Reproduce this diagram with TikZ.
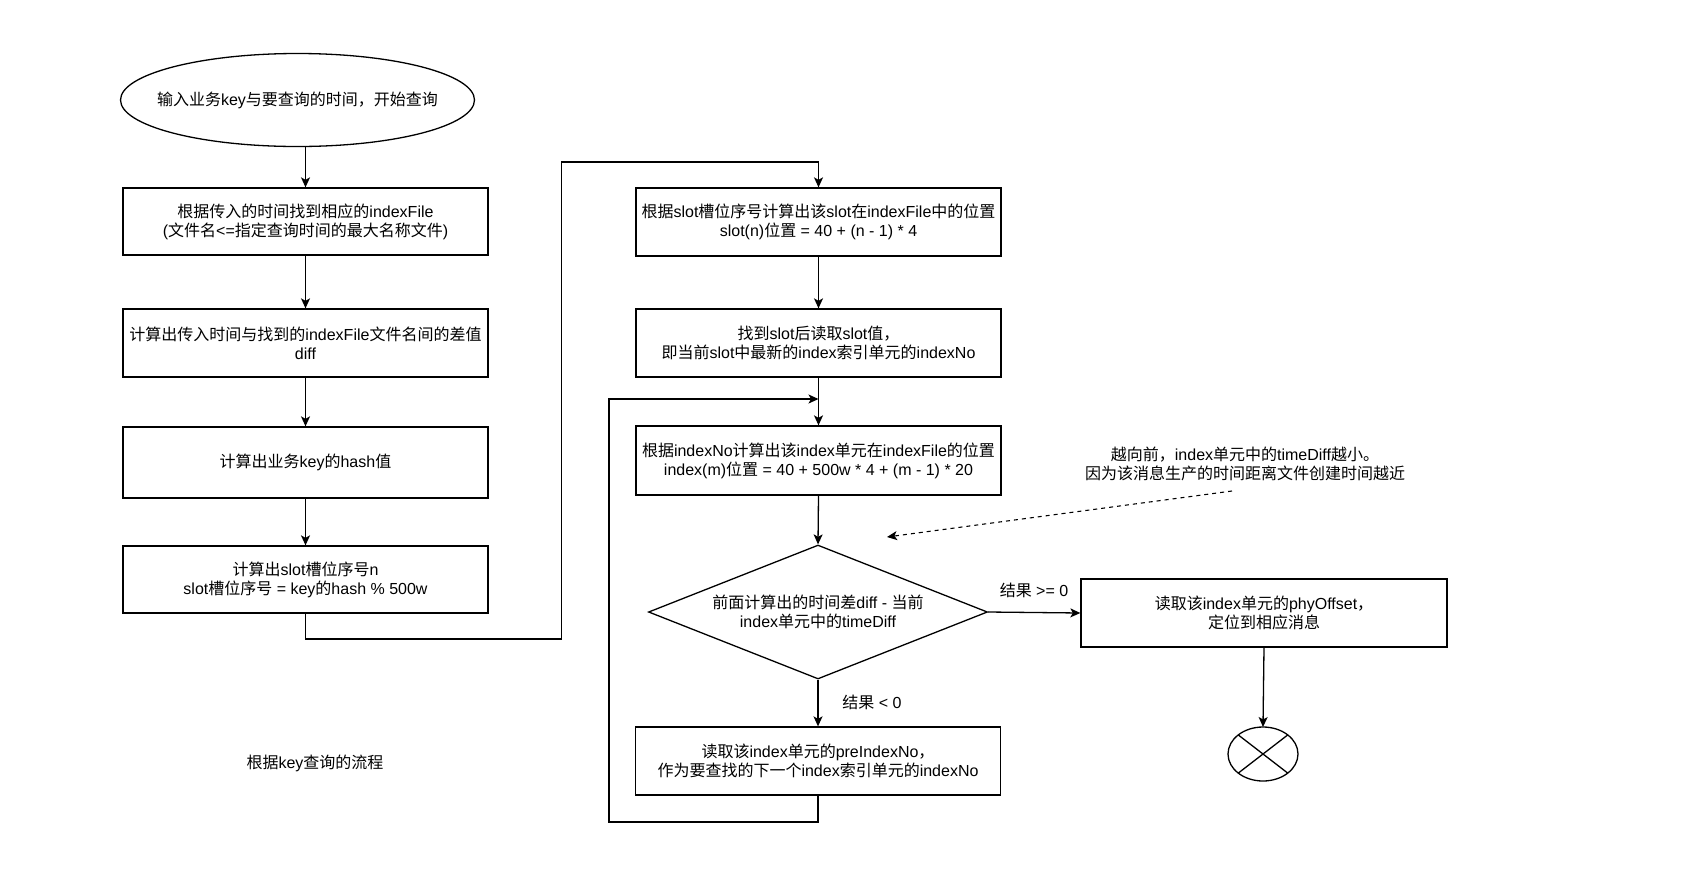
\documentclass[tikz,border=0pt]{standalone}
\usepackage{fontspec}
\usetikzlibrary{shapes.geometric,arrows.meta}
\setmainfont{Liberation Sans}
\newfontfamily\cjkf{Noto Sans CJK SC}
\newfontfamily\latf{Liberation Sans}
\XeTeXinterchartokenstate=1
\newXeTeXintercharclass\cjkcls
\newcount\mycnt
\mycnt="3000
\loop\ifnum\mycnt<"3040 \XeTeXcharclass\mycnt=\cjkcls \advance\mycnt by 1 \repeat
\mycnt="4E00
\loop\ifnum\mycnt<"A000 \XeTeXcharclass\mycnt=\cjkcls \advance\mycnt by 1 \repeat
\mycnt="FF00
\loop\ifnum\mycnt<"FFF0 \XeTeXcharclass\mycnt=\cjkcls \advance\mycnt by 1 \repeat
\XeTeXinterchartoks 0 \cjkcls={\cjkf}
\XeTeXinterchartoks 4095 \cjkcls={\cjkf}
\XeTeXinterchartoks \cjkcls 0={\latf}
\XeTeXinterchartoks \cjkcls 4095={\latf}
\begin{document}
\begin{tikzpicture}[x=1pt,y=-1pt,line width=1.3pt,
  txt/.style={font=\fontsize{16}{19}\selectfont,align=center,inner sep=0pt},
  box/.style={txt,draw,rectangle,minimum width=365pt,minimum height=68pt},
  arr/.style={-{Stealth[length=10pt,width=9pt,inset=2.5pt]}},
  dashline/.style={dash pattern=on 4pt off 4pt}]
\useasboundingbox[fill=white] (0,0) rectangle (1690,879);
% left column
\node[draw,ellipse,minimum width=354pt,minimum height=93pt,inner sep=0pt] (start) at (297.5,100) {};
\node[txt] (starttxt) at (start.center) {输入业务key与要查询的时间，开始查询};
\node[box,minimum height=67pt] (b1) at (305.5,221.5) {根据传入的时间找到相应的indexFile\\(文件名<=指定查询时间的最大名称文件)};
\node[box] (b2) at (305.5,343) {计算出传入时间与找到的indexFile文件名间的差值\\diff};
\node[box,minimum height=71pt] (b3) at (305.5,462.5) {计算出业务key的hash值};
\node[box,minimum height=67pt] (b4) at (305.5,579.5) {计算出slot槽位序号n\\slot槽位序号 = key的hash \% 500w};
\node[txt] (cap) at (315,763) {根据key查询的流程};
% middle column
\node[box] (b5) at (818.5,222) {根据slot槽位序号计算出该slot在indexFile中的位置\\slot(n)位置 = 40 + (n - 1) * 4};
\node[box] (b6) at (818.5,343) {找到slot后读取slot值，\\即当前slot中最新的index索引单元的indexNo};
\node[box,minimum height=69pt] (b7) at (818.5,460.5) {根据indexNo计算出该index单元在indexFile的位置\\index(m)位置 = 40 + 500w * 4 + (m - 1) * 20};
\node[draw,diamond,minimum width=339pt,minimum height=134pt,inner sep=0pt] (dia) at (818,612) {};
\node[txt] (diatxt) at (dia.center) {前面计算出的时间差diff - 当前\\index单元中的timeDiff};
\node[box] (b9) at (818,761) {读取该index单元的preIndexNo，\\作为要查找的下一个index索引单元的indexNo};
% right column
\node[box,minimum width=366pt] (b8) at (1264,613) {读取该index单元的phyOffset，\\定位到相应消息};
\node[draw,ellipse,minimum width=70pt,minimum height=54pt,inner sep=0pt,outer sep=0pt] (end) at (1263,754) {};
\draw (end.north east) -- (end.south west) (end.north west) -- (end.south east);
\node[txt] (note) at (1245,464) {越向前，index单元中的timeDiff越小。\\因为该消息生产的时间距离文件创建时间越近};
% labels
\node[txt] (lge) at (1034,590) {结果 >= 0};
\node[txt] (llt) at (872,702) {结果 < 0};
% connectors
\draw[arr] (start.south -| b1.north) -- (b1.north);
\draw[arr] (b1) -- (b2);
\draw[arr] (b2) -- (b3);
\draw[arr] (b3) -- (b4);
\coordinate (w1) at (561.5,639);
\coordinate (w2) at (561.5,162);
\draw[arr] (b4.south) |- (w1) -- (w2) -| (b5.north);
\draw[arr] (b5) -- (b6);
\draw[arr] (b6) -- (b7);
\draw[arr] (b7.south) -- (dia.north);
\draw[arr] (dia.east) -- (b8.west);
\draw[arr] (dia.south) -- (b9.north);
\draw[arr] (b8.south) -- (end.north);
\coordinate (w3) at (609,822);
\coordinate (w4) at (609,399);
\draw[arr] (b9.south) |- (w3) -- (w4) -- (w4 -| b7.north);
\coordinate (d1) at (1232,491);
\coordinate (d2) at (887,537);
\draw[arr,dashline,line width=1.1pt] (d1) -- (d2);
\end{tikzpicture}
\end{document}
